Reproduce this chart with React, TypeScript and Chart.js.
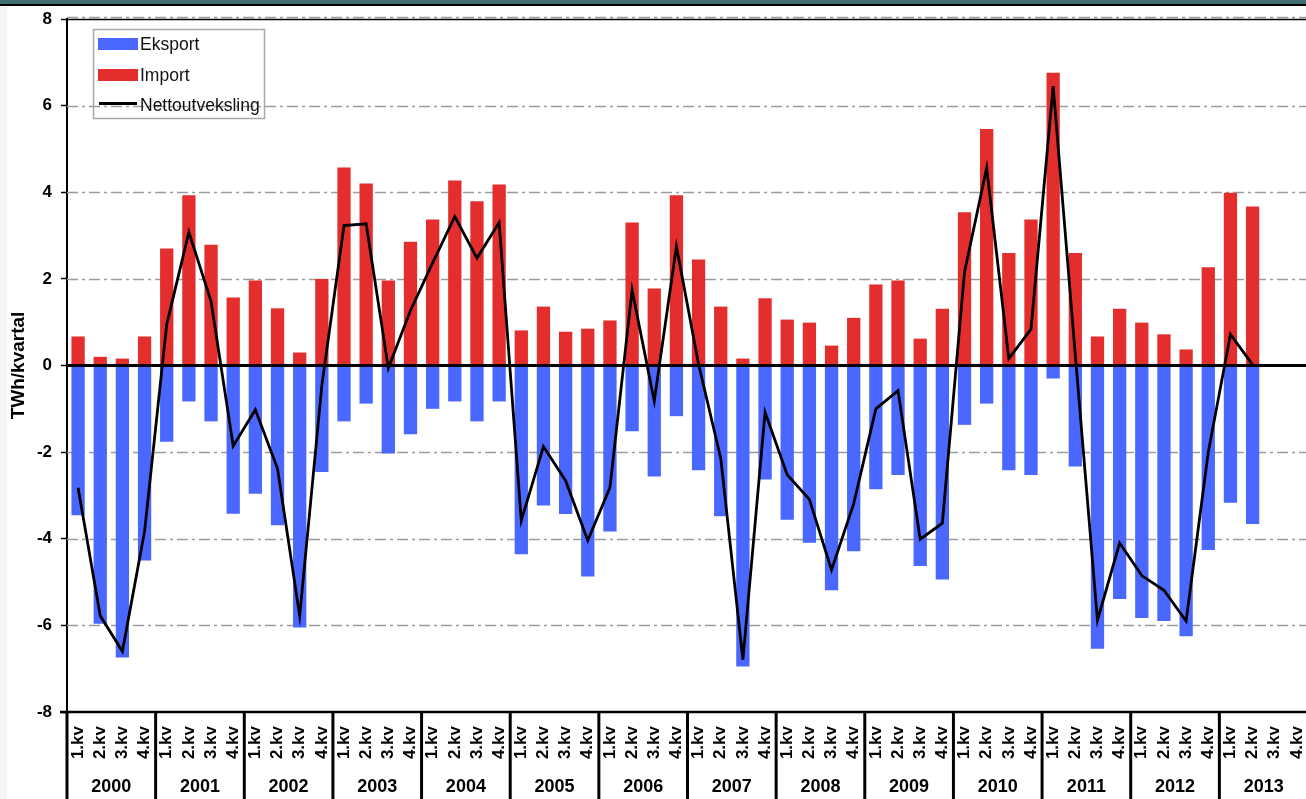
import React, { useEffect, useRef } from 'react';
import { Chart, registerables } from 'chart.js';

Chart.register(...registerables);

const years = ['2000', '2001', '2002', '2003', '2004', '2005', '2006', '2007', '2008', '2009', '2010', '2011', '2012', '2013'];
const quarters = ['1.kv', '2.kv', '3.kv', '4.kv'];
const categories = years.flatMap(() => quarters);

const importValues = [
  0.67, 0.20, 0.16, 0.67,
  2.70, 3.93, 2.79, 1.57,
  1.96, 1.32, 0.30, 2.00,
  4.57, 4.20, 1.96, 2.86,
  3.37, 4.27, 3.79, 4.18,
  0.81, 1.36, 0.78, 0.85,
  1.04, 3.30, 1.78, 3.93,
  2.45, 1.36, 0.16, 1.55,
  1.06, 0.99, 0.46, 1.10,
  1.87, 1.96, 0.62, 1.31,
  3.54, 5.46, 2.60, 3.37,
  6.76, 2.60, 0.67, 1.31,
  0.99, 0.72, 0.37, 2.27,
  3.99, 3.67, null, null,
];

const exportValues = [
  -3.46, -5.96, -6.74, -4.50,
  -1.76, -0.83, -1.29, -3.42,
  -2.96, -3.69, -6.05, -2.46,
  -1.29, -0.88, -2.03, -1.59,
  -1.00, -0.83, -1.29, -0.83,
  -4.36, -3.23, -3.43, -4.87,
  -3.83, -1.52, -2.56, -1.17,
  -2.42, -3.48, -6.95, -2.63,
  -3.56, -4.09, -5.19, -4.29,
  -2.86, -2.53, -4.63, -4.94,
  -1.37, -0.88, -2.42, -2.53,
  -0.30, -2.33, -6.54, -5.39,
  -5.83, -5.90, -6.25, -4.26,
  -3.17, -3.66, null, null,
];

const netValues = [
  -2.82, -5.78, -6.60, -3.83,
  0.95, 3.08, 1.48, -1.86,
  -1.02, -2.38, -5.78, -0.46,
  3.23, 3.27, -0.06, 1.27,
  2.37, 3.44, 2.48, 3.30,
  -3.58, -1.87, -2.66, -4.04,
  -2.82, 1.74, -0.82, 2.75,
  0.03, -2.14, -6.79, -1.08,
  -2.52, -3.09, -4.72, -3.19,
  -1.00, -0.58, -4.01, -3.64,
  2.16, 4.56, 0.16, 0.84,
  6.45, 0.24, -5.88, -4.10,
  -4.85, -5.19, -5.90, -2.00,
  0.72, 0.02, null, null,
];

const gridValues = [8, 6, 4, 2, -2, -4, -6];
const seriesLabels = ['Eksport', 'Import', 'Nettoutveksling'];
const yTitle = 'TWh/kvartal';

const FONT = "'Liberation Sans', Arial, Helvetica, sans-serif";
const BLUE = '#4a67ff';
const RED = '#e42e2e';

const decorPlugin = {
  id: 'decor',
  beforeDatasetsDraw(chart: any) {
    const { ctx, chartArea: a, scales } = chart;
    const y = scales.y;
    ctx.save();
    ctx.strokeStyle = '#9b9b9b';
    ctx.lineWidth = 1.5;
    ctx.setLineDash([11, 4, 3, 4]);
    for (const v of gridValues) {
      let py = Math.round(y.getPixelForValue(v)) + 0.5;
      if (v === 8) py -= 2;
      ctx.beginPath();
      ctx.moveTo(a.left, py);
      ctx.lineTo(a.right, py);
      ctx.stroke();
    }
    ctx.restore();
  },
  afterDatasetDraw(chart: any, args: any) {
    if (args.index !== 1) return;
    const { ctx, chartArea: a, scales } = chart;
    const py = scales.y.getPixelForValue(0);
    ctx.save();
    ctx.strokeStyle = '#000';
    ctx.lineWidth = 3;
    ctx.beginPath();
    ctx.moveTo(a.left, py);
    ctx.lineTo(a.right, py);
    ctx.stroke();
    ctx.restore();
  },
  afterDraw(chart: any) {
    const { ctx, chartArea: a, scales } = chart;
    const x = scales.x;
    const H = chart.height;
    ctx.save();
    ctx.strokeStyle = '#000';
    ctx.lineWidth = 1.5;
    ctx.beginPath();
    ctx.moveTo(a.left, a.top + 0.5);
    ctx.lineTo(a.right, a.top + 0.5);
    ctx.stroke();
    ctx.lineWidth = 2.5;
    ctx.beginPath();
    ctx.moveTo(a.left - 7, a.bottom);
    ctx.lineTo(a.right, a.bottom);
    ctx.stroke();
    const half = (x.getPixelForValue(1) - x.getPixelForValue(0)) / 2;
    ctx.lineWidth = 3;
    ctx.fillStyle = '#000';
    ctx.font = `bold 18px ${FONT}`;
    ctx.textAlign = 'center';
    ctx.textBaseline = 'middle';
    years.forEach((yr, i) => {
      const x0 = x.getPixelForValue(i * 4) - half;
      const x1 = x.getPixelForValue(i * 4 + 3) + half;
      ctx.beginPath();
      ctx.moveTo(x0, a.bottom);
      ctx.lineTo(x0, H);
      ctx.stroke();
      ctx.fillText(yr, (x0 + x1) / 2, 787);
    });
    ctx.save();
    ctx.translate(19, (a.top + a.bottom) / 2);
    ctx.rotate(-Math.PI / 2);
    ctx.font = `bold 19px ${FONT}`;
    ctx.textAlign = 'center';
    ctx.textBaseline = 'middle';
    ctx.fillText(yTitle, 0, 0);
    ctx.restore();
    ctx.strokeStyle = '#a8a8a8';
    ctx.lineWidth = 1.5;
    ctx.strokeRect(93.5, 29.5, 171, 89);
    ctx.fillStyle = BLUE;
    ctx.fillRect(98, 38, 40, 12);
    ctx.fillStyle = RED;
    ctx.fillRect(98, 69, 40, 12);
    ctx.strokeStyle = '#000';
    ctx.lineWidth = 3;
    ctx.beginPath();
    ctx.moveTo(99, 103.5);
    ctx.lineTo(137, 103.5);
    ctx.stroke();
    ctx.fillStyle = '#111';
    ctx.font = `17.5px ${FONT}`;
    ctx.textAlign = 'left';
    ctx.textBaseline = 'middle';
    ctx.fillText(seriesLabels[0], 140, 45);
    ctx.fillText(seriesLabels[1], 140, 76);
    ctx.fillText(seriesLabels[2], 140, 106);
    ctx.restore();
  },
};

export default function App() {
  const ref = useRef<HTMLCanvasElement | null>(null);

  useEffect(() => {
    const canvas = ref.current;
    if (!canvas) return;
    const chart = new Chart(canvas, {
      type: 'bar',
      data: {
        labels: categories,
        datasets: [
          {
            type: 'line',
            label: seriesLabels[2],
            data: netValues,
            borderColor: '#000',
            borderWidth: 2.8,
            pointRadius: 0,
            tension: 0,
            fill: false,
            stack: 'net',
            spanGaps: false,
          } as any,
          {
            label: seriesLabels[0],
            data: exportValues,
            backgroundColor: BLUE,
            barPercentage: 0.6,
            categoryPercentage: 1,
            stack: 'bars',
          },
          {
            label: seriesLabels[1],
            data: importValues,
            backgroundColor: RED,
            barPercentage: 0.6,
            categoryPercentage: 1,
            stack: 'bars',
          },
        ],
      },
      options: {
        animation: false,
        responsive: false,
        devicePixelRatio: 1,
        layout: { padding: { left: 0, right: 12, top: 19, bottom: 0 } },
        plugins: { legend: { display: false }, tooltip: { enabled: false } },
        scales: {
          x: {
            stacked: true,
            offset: true,
            grid: { display: false, drawTicks: false },
            border: { display: false },
            ticks: {
              autoSkip: false,
              maxRotation: 90,
              minRotation: 90,
              padding: 14,
              color: '#000',
              font: { family: FONT, size: 17, weight: 'bold' },
            },
            afterFit: (s: any) => {
              s.height = 118;
              s.paddingLeft = 0;
              s.paddingRight = 0;
            },
          },
          y: {
            stacked: true,
            min: -8,
            max: 8,
            ticks: {
              stepSize: 2,
              padding: 9,
              color: '#000',
              font: { family: FONT, size: 17, weight: 'bold' },
            },
            grid: { drawOnChartArea: false, drawTicks: true, tickLength: 6, tickColor: '#000', tickWidth: 1.5 },
            border: { display: true, color: '#000', width: 2 },
            afterFit: (s: any) => {
              s.width = 67;
              s.paddingTop = 0;
              s.paddingBottom = 0;
            },
          },
        },
      },
      plugins: [decorPlugin],
    });
    return () => chart.destroy();
  }, []);

  return (
    <div style={{ position: 'fixed', left: 0, top: 0, width: 1306, height: 799, overflow: 'hidden', background: '#fff' }}>
      <div style={{ position: 'absolute', left: 0, top: 0, width: 1306, height: 4, background: '#406e70' }} />
      <div style={{ position: 'absolute', left: 0, top: 4, width: 1306, height: 2, background: '#000' }} />
      <div style={{ position: 'absolute', left: 0, top: 6, width: 7, height: 793, background: '#f4f4f4' }} />
      <canvas ref={ref} width={1320} height={830} style={{ position: 'absolute', left: 0, top: 0 }} />
    </div>
  );
}
